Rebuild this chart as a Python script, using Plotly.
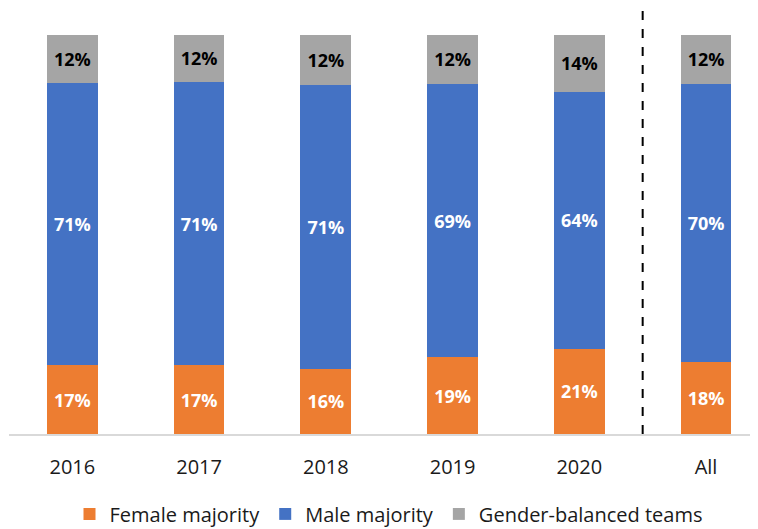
import plotly.graph_objects as go

categories = ["2016", "2017", "2018", "2019", "2020", "All"]
female = [17.2, 17.2, 16.4, 19.2, 21.4, 18.0]
male = [70.9, 71.1, 71.2, 68.6, 64.4, 69.8]
balanced = [11.9, 11.7, 12.4, 12.2, 14.2, 12.2]

FONT = "Open Sans"

fig = go.Figure()
series = [
    ("Female majority", female, "#ED7D31", "white"),
    ("Male majority", male, "#4472C4", "white"),
    ("Gender-balanced teams", balanced, "#A5A5A5", "black"),
]
for name, vals, color, tcolor in series:
    fig.add_trace(go.Bar(
        name=name, x=categories, y=vals,
        marker=dict(color=color, line=dict(width=0)),
        texttemplate="<b>%{y:.0f}%</b>",
        textposition="inside", insidetextanchor="middle", textangle=0,
        textfont=dict(family=FONT, size=18, color=tcolor),
        hoverinfo="skip",
    ))

fig.add_shape(type="line", xref="x", yref="y", x0=4.5, x1=4.5, y0=0, y1=106.8,
              line=dict(color="black", width=2, dash="dash"))

fig.update_layout(
    width=750, height=521,
    barmode="stack", bargap=0.6,
    margin=dict(l=1, r=0, t=0, b=95),
    plot_bgcolor="white", paper_bgcolor="white",
    font=dict(family=FONT, size=18, color="#1a1a1a"),
    uniformtext=dict(mode="show", minsize=18),
    showlegend=True,
    legend=dict(orientation="h", xref="container", x=0.508, xanchor="center",
                yref="container", y=0.029, yanchor="middle",
                font=dict(family=FONT, size=20, color="#1a1a1a"),
                traceorder="normal", itemwidth=30),
    xaxis=dict(type="category", range=[-0.5, 5.41], showline=True, linecolor="#D9D9D9",
               linewidth=1.5, ticks="", showgrid=False, ticklabelstandoff=14,
               tickfont=dict(family=FONT, size=20, color="#1a1a1a")),
    yaxis=dict(range=[0, 106.8], visible=False, showgrid=False, zeroline=False),
)

fig.write_html("out.html")
